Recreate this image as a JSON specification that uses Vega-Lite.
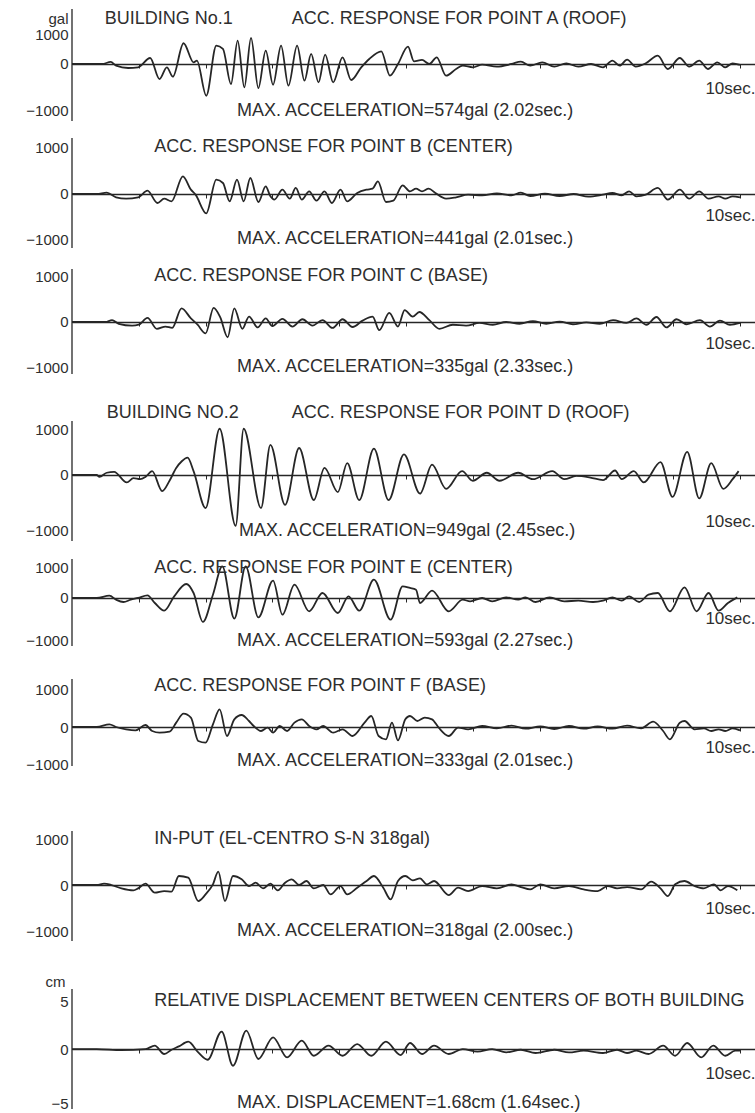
{
"$schema": "https://vega.github.io/schema/vega-lite/v6.json",
"background": "white",
"padding": {"left": 25, "top": 8, "right": 0, "bottom": 0},
"autosize": {"type": "pad"},
"bounds": "flush",
"spacing": 0,
"config": {
  "view": {"stroke": null},
  "font": "Liberation Sans, Arial, Helvetica, sans-serif",
  "axis": {"labelFont": "Liberation Sans, Arial, Helvetica, sans-serif", "labelColor": "#2e2e2e", "titleFont": "Liberation Sans, Arial, Helvetica, sans-serif", "titleColor": "#2e2e2e", "titleFontWeight": "normal", "grid": false},
  "text": {"font": "Liberation Sans, Arial, Helvetica, sans-serif", "color": "#2e2e2e", "fontSize": 18, "align": "left", "baseline": "middle"},
  "line": {"interpolate": "monotone", "stroke": "#262626", "strokeWidth": 1.8},
  "rule": {"stroke": "#262626", "strokeWidth": 1.3}
},
"datasets": {
"w": [
{"p":"A","t":0,"v":0},{"p":"A","t":0.45,"v":0},{"p":"A","t":0.58,"v":53},{"p":"A","t":0.66,"v":-44},{"p":"A","t":0.84,"v":-106},{"p":"A","t":0.99,"v":-88},{"p":"A","t":1.17,"v":158},{"p":"A","t":1.31,"v":-396},{"p":"A","t":1.42,"v":-88},{"p":"A","t":1.51,"v":-334},{"p":"A","t":1.67,"v":546},{"p":"A","t":1.82,"v":44},{"p":"A","t":1.87,"v":88},{"p":"A","t":2.01,"v":-836},{"p":"A","t":2.16,"v":484},{"p":"A","t":2.26,"v":396},{"p":"A","t":2.38,"v":-528},{"p":"A","t":2.48,"v":616},{"p":"A","t":2.58,"v":-616},{"p":"A","t":2.68,"v":686},{"p":"A","t":2.79,"v":-634},{"p":"A","t":2.9,"v":352},{"p":"A","t":3.01,"v":-546},{"p":"A","t":3.13,"v":484},{"p":"A","t":3.24,"v":-572},{"p":"A","t":3.37,"v":484},{"p":"A","t":3.48,"v":-440},{"p":"A","t":3.58,"v":264},{"p":"A","t":3.69,"v":-484},{"p":"A","t":3.79,"v":246},{"p":"A","t":3.91,"v":-484},{"p":"A","t":4.05,"v":176},{"p":"A","t":4.18,"v":-422},{"p":"A","t":4.33,"v":-88},{"p":"A","t":4.45,"v":132},{"p":"A","t":4.63,"v":334},{"p":"A","t":4.76,"v":-308},{"p":"A","t":4.88,"v":0},{"p":"A","t":5.03,"v":458},{"p":"A","t":5.12,"v":70},{"p":"A","t":5.24,"v":106},{"p":"A","t":5.35,"v":0},{"p":"A","t":5.46,"v":176},{"p":"A","t":5.6,"v":-308},{"p":"A","t":5.75,"v":-132},{"p":"A","t":5.85,"v":-44},{"p":"A","t":6.0,"v":-88},{"p":"A","t":6.14,"v":-18},{"p":"A","t":6.36,"v":-70},{"p":"A","t":6.58,"v":0},{"p":"A","t":6.72,"v":62},{"p":"A","t":6.86,"v":-44},{"p":"A","t":7.04,"v":44},{"p":"A","t":7.22,"v":-70},{"p":"A","t":7.4,"v":18},{"p":"A","t":7.58,"v":-70},{"p":"A","t":7.77,"v":0},{"p":"A","t":7.95,"v":-88},{"p":"A","t":8.09,"v":88},{"p":"A","t":8.2,"v":-44},{"p":"A","t":8.31,"v":114},{"p":"A","t":8.44,"v":-70},{"p":"A","t":8.59,"v":18},{"p":"A","t":8.77,"v":220},{"p":"A","t":8.92,"v":-132},{"p":"A","t":9.1,"v":158},{"p":"A","t":9.24,"v":-70},{"p":"A","t":9.39,"v":88},{"p":"A","t":9.52,"v":-132},{"p":"A","t":9.66,"v":44},{"p":"A","t":9.78,"v":-88},{"p":"A","t":9.89,"v":18},{"p":"A","t":10.0,"v":-26},
{"p":"B","t":0,"v":0},{"p":"B","t":0.37,"v":0},{"p":"B","t":0.52,"v":29},{"p":"B","t":0.66,"v":-73},{"p":"B","t":0.81,"v":-102},{"p":"B","t":0.99,"v":-73},{"p":"B","t":1.13,"v":73},{"p":"B","t":1.28,"v":-196},{"p":"B","t":1.38,"v":-102},{"p":"B","t":1.49,"v":-160},{"p":"B","t":1.66,"v":384},{"p":"B","t":1.78,"v":94},{"p":"B","t":1.85,"v":-15},{"p":"B","t":2.01,"v":-421},{"p":"B","t":2.16,"v":312},{"p":"B","t":2.26,"v":239},{"p":"B","t":2.36,"v":-160},{"p":"B","t":2.47,"v":312},{"p":"B","t":2.57,"v":-160},{"p":"B","t":2.67,"v":348},{"p":"B","t":2.79,"v":-174},{"p":"B","t":2.9,"v":167},{"p":"B","t":2.97,"v":-51},{"p":"B","t":3.03,"v":-123},{"p":"B","t":3.15,"v":94},{"p":"B","t":3.26,"v":-102},{"p":"B","t":3.35,"v":131},{"p":"B","t":3.44,"v":-123},{"p":"B","t":3.55,"v":58},{"p":"B","t":3.66,"v":-145},{"p":"B","t":3.78,"v":58},{"p":"B","t":3.89,"v":-196},{"p":"B","t":4.02,"v":94},{"p":"B","t":4.12,"v":-160},{"p":"B","t":4.27,"v":22},{"p":"B","t":4.41,"v":94},{"p":"B","t":4.5,"v":116},{"p":"B","t":4.58,"v":276},{"p":"B","t":4.7,"v":-174},{"p":"B","t":4.81,"v":-145},{"p":"B","t":4.95,"v":189},{"p":"B","t":5.06,"v":58},{"p":"B","t":5.15,"v":116},{"p":"B","t":5.24,"v":58},{"p":"B","t":5.34,"v":116},{"p":"B","t":5.44,"v":22},{"p":"B","t":5.6,"v":-102},{"p":"B","t":5.75,"v":-73},{"p":"B","t":5.93,"v":-15},{"p":"B","t":6.14,"v":-29},{"p":"B","t":6.36,"v":15},{"p":"B","t":6.58,"v":-29},{"p":"B","t":6.72,"v":29},{"p":"B","t":6.86,"v":-44},{"p":"B","t":7.08,"v":7},{"p":"B","t":7.3,"v":-44},{"p":"B","t":7.51,"v":0},{"p":"B","t":7.73,"v":-58},{"p":"B","t":7.95,"v":-15},{"p":"B","t":8.09,"v":22},{"p":"B","t":8.23,"v":-29},{"p":"B","t":8.34,"v":58},{"p":"B","t":8.45,"v":-51},{"p":"B","t":8.59,"v":-15},{"p":"B","t":8.77,"v":131},{"p":"B","t":8.92,"v":-123},{"p":"B","t":9.1,"v":94},{"p":"B","t":9.24,"v":-102},{"p":"B","t":9.39,"v":58},{"p":"B","t":9.53,"v":-102},{"p":"B","t":9.68,"v":-51},{"p":"B","t":9.78,"v":-102},{"p":"B","t":9.89,"v":-51},{"p":"B","t":10.0,"v":-73},
{"p":"C","t":0,"v":0},{"p":"C","t":0.5,"v":0},{"p":"C","t":0.6,"v":40},{"p":"C","t":0.7,"v":-40},{"p":"C","t":0.9,"v":-80},{"p":"C","t":1.0,"v":-60},{"p":"C","t":1.13,"v":90},{"p":"C","t":1.27,"v":-150},{"p":"C","t":1.4,"v":-100},{"p":"C","t":1.5,"v":-130},{"p":"C","t":1.64,"v":300},{"p":"C","t":1.78,"v":80},{"p":"C","t":1.88,"v":-60},{"p":"C","t":2.0,"v":-250},{"p":"C","t":2.12,"v":310},{"p":"C","t":2.22,"v":100},{"p":"C","t":2.33,"v":-335},{"p":"C","t":2.43,"v":300},{"p":"C","t":2.55,"v":-150},{"p":"C","t":2.65,"v":120},{"p":"C","t":2.78,"v":-120},{"p":"C","t":2.9,"v":80},{"p":"C","t":3.0,"v":-90},{"p":"C","t":3.15,"v":70},{"p":"C","t":3.3,"v":-100},{"p":"C","t":3.45,"v":60},{"p":"C","t":3.6,"v":-80},{"p":"C","t":3.75,"v":40},{"p":"C","t":3.9,"v":-130},{"p":"C","t":4.05,"v":60},{"p":"C","t":4.2,"v":-110},{"p":"C","t":4.35,"v":30},{"p":"C","t":4.5,"v":120},{"p":"C","t":4.6,"v":-180},{"p":"C","t":4.75,"v":200},{"p":"C","t":4.88,"v":-100},{"p":"C","t":4.98,"v":260},{"p":"C","t":5.1,"v":120},{"p":"C","t":5.2,"v":220},{"p":"C","t":5.35,"v":40},{"p":"C","t":5.5,"v":-150},{"p":"C","t":5.7,"v":-60},{"p":"C","t":5.9,"v":-80},{"p":"C","t":6.1,"v":-20},{"p":"C","t":6.3,"v":-60},{"p":"C","t":6.5,"v":0},{"p":"C","t":6.7,"v":-40},{"p":"C","t":6.9,"v":20},{"p":"C","t":7.1,"v":-40},{"p":"C","t":7.3,"v":10},{"p":"C","t":7.5,"v":-50},{"p":"C","t":7.7,"v":-10},{"p":"C","t":7.9,"v":-40},{"p":"C","t":8.1,"v":40},{"p":"C","t":8.3,"v":-20},{"p":"C","t":8.45,"v":80},{"p":"C","t":8.6,"v":-60},{"p":"C","t":8.75,"v":110},{"p":"C","t":8.9,"v":-120},{"p":"C","t":9.05,"v":60},{"p":"C","t":9.2,"v":-50},{"p":"C","t":9.4,"v":40},{"p":"C","t":9.55,"v":-100},{"p":"C","t":9.7,"v":30},{"p":"C","t":9.85,"v":-60},{"p":"C","t":10.0,"v":-20},
{"p":"D","t":0,"v":0},{"p":"D","t":0.37,"v":0},{"p":"D","t":0.41,"v":-38},{"p":"D","t":0.52,"v":44},{"p":"D","t":0.63,"v":63},{"p":"D","t":0.82,"v":-145},{"p":"D","t":0.92,"v":-63},{"p":"D","t":1.02,"v":-82},{"p":"D","t":1.1,"v":-38},{"p":"D","t":1.2,"v":76},{"p":"D","t":1.35,"v":-315},{"p":"D","t":1.46,"v":-113},{"p":"D","t":1.56,"v":139},{"p":"D","t":1.64,"v":265},{"p":"D","t":1.73,"v":340},{"p":"D","t":1.82,"v":76},{"p":"D","t":2.0,"v":-649},{"p":"D","t":2.21,"v":907},{"p":"D","t":2.45,"v":-995},{"p":"D","t":2.57,"v":907},{"p":"D","t":2.83,"v":-649},{"p":"D","t":2.97,"v":592},{"p":"D","t":3.19,"v":-586},{"p":"D","t":3.4,"v":529},{"p":"D","t":3.62,"v":-491},{"p":"D","t":3.78,"v":139},{"p":"D","t":3.98,"v":-334},{"p":"D","t":4.12,"v":233},{"p":"D","t":4.3,"v":-491},{"p":"D","t":4.52,"v":517},{"p":"D","t":4.74,"v":-491},{"p":"D","t":4.97,"v":403},{"p":"D","t":5.21,"v":-365},{"p":"D","t":5.39,"v":202},{"p":"D","t":5.6,"v":-271},{"p":"D","t":5.84,"v":76},{"p":"D","t":6.0,"v":-113},{"p":"D","t":6.21,"v":44},{"p":"D","t":6.4,"v":-113},{"p":"D","t":6.68,"v":44},{"p":"D","t":6.9,"v":-82},{"p":"D","t":7.19,"v":76},{"p":"D","t":7.37,"v":-82},{"p":"D","t":7.55,"v":-19},{"p":"D","t":7.76,"v":-50},{"p":"D","t":7.95,"v":-101},{"p":"D","t":8.13,"v":88},{"p":"D","t":8.23,"v":-82},{"p":"D","t":8.41,"v":76},{"p":"D","t":8.56,"v":-145},{"p":"D","t":8.81,"v":252},{"p":"D","t":8.99,"v":-428},{"p":"D","t":9.21,"v":454},{"p":"D","t":9.39,"v":-460},{"p":"D","t":9.57,"v":233},{"p":"D","t":9.75,"v":-271},{"p":"D","t":9.89,"v":-82},{"p":"D","t":9.98,"v":76},
{"p":"E","t":0,"v":0},{"p":"E","t":0.37,"v":0},{"p":"E","t":0.56,"v":64},{"p":"E","t":0.66,"v":-46},{"p":"E","t":0.77,"v":-110},{"p":"E","t":0.88,"v":-46},{"p":"E","t":0.99,"v":0},{"p":"E","t":1.13,"v":73},{"p":"E","t":1.24,"v":-137},{"p":"E","t":1.38,"v":-347},{"p":"E","t":1.53,"v":46},{"p":"E","t":1.71,"v":383},{"p":"E","t":1.82,"v":137},{"p":"E","t":1.96,"v":-657},{"p":"E","t":2.11,"v":91},{"p":"E","t":2.25,"v":867},{"p":"E","t":2.43,"v":-566},{"p":"E","t":2.6,"v":867},{"p":"E","t":2.79,"v":-530},{"p":"E","t":3.01,"v":475},{"p":"E","t":3.15,"v":-457},{"p":"E","t":3.33,"v":365},{"p":"E","t":3.55,"v":-365},{"p":"E","t":3.75,"v":137},{"p":"E","t":3.98,"v":-411},{"p":"E","t":4.14,"v":46},{"p":"E","t":4.3,"v":-347},{"p":"E","t":4.52,"v":502},{"p":"E","t":4.77,"v":-593},{"p":"E","t":4.95,"v":320},{"p":"E","t":5.06,"v":274},{"p":"E","t":5.15,"v":228},{"p":"E","t":5.21,"v":-137},{"p":"E","t":5.39,"v":201},{"p":"E","t":5.64,"v":-365},{"p":"E","t":5.85,"v":-46},{"p":"E","t":5.96,"v":-91},{"p":"E","t":6.14,"v":0},{"p":"E","t":6.29,"v":-91},{"p":"E","t":6.5,"v":18},{"p":"E","t":6.68,"v":-46},{"p":"E","t":6.79,"v":18},{"p":"E","t":6.94,"v":-110},{"p":"E","t":7.15,"v":18},{"p":"E","t":7.37,"v":-91},{"p":"E","t":7.58,"v":-73},{"p":"E","t":7.8,"v":-110},{"p":"E","t":7.95,"v":-73},{"p":"E","t":8.09,"v":18},{"p":"E","t":8.23,"v":-73},{"p":"E","t":8.34,"v":46},{"p":"E","t":8.49,"v":-110},{"p":"E","t":8.63,"v":91},{"p":"E","t":8.77,"v":137},{"p":"E","t":8.95,"v":-365},{"p":"E","t":9.17,"v":292},{"p":"E","t":9.35,"v":-365},{"p":"E","t":9.53,"v":137},{"p":"E","t":9.68,"v":-347},{"p":"E","t":9.82,"v":-137},{"p":"E","t":9.96,"v":18},
{"p":"F","t":0,"v":0},{"p":"F","t":0.37,"v":0},{"p":"F","t":0.56,"v":71},{"p":"F","t":0.66,"v":0},{"p":"F","t":0.81,"v":-62},{"p":"F","t":0.95,"v":-89},{"p":"F","t":1.1,"v":53},{"p":"F","t":1.2,"v":-107},{"p":"F","t":1.31,"v":-151},{"p":"F","t":1.46,"v":-125},{"p":"F","t":1.56,"v":116},{"p":"F","t":1.67,"v":356},{"p":"F","t":1.78,"v":249},{"p":"F","t":1.89,"v":-374},{"p":"F","t":2.0,"v":-418},{"p":"F","t":2.11,"v":71},{"p":"F","t":2.21,"v":472},{"p":"F","t":2.32,"v":-240},{"p":"F","t":2.43,"v":205},{"p":"F","t":2.54,"v":320},{"p":"F","t":2.65,"v":160},{"p":"F","t":2.72,"v":27},{"p":"F","t":2.83,"v":-107},{"p":"F","t":2.93,"v":-18},{"p":"F","t":3.01,"v":-151},{"p":"F","t":3.11,"v":27},{"p":"F","t":3.22,"v":-107},{"p":"F","t":3.33,"v":116},{"p":"F","t":3.44,"v":205},{"p":"F","t":3.55,"v":27},{"p":"F","t":3.66,"v":-62},{"p":"F","t":3.76,"v":27},{"p":"F","t":3.91,"v":-151},{"p":"F","t":4.05,"v":-62},{"p":"F","t":4.2,"v":-240},{"p":"F","t":4.38,"v":116},{"p":"F","t":4.48,"v":294},{"p":"F","t":4.59,"v":-240},{"p":"F","t":4.7,"v":-329},{"p":"F","t":4.79,"v":116},{"p":"F","t":4.88,"v":-356},{"p":"F","t":4.99,"v":205},{"p":"F","t":5.06,"v":294},{"p":"F","t":5.17,"v":160},{"p":"F","t":5.28,"v":249},{"p":"F","t":5.39,"v":205},{"p":"F","t":5.49,"v":-18},{"p":"F","t":5.64,"v":-240},{"p":"F","t":5.78,"v":-18},{"p":"F","t":5.93,"v":-62},{"p":"F","t":6.14,"v":27},{"p":"F","t":6.36,"v":-36},{"p":"F","t":6.58,"v":36},{"p":"F","t":6.79,"v":-45},{"p":"F","t":7.01,"v":18},{"p":"F","t":7.22,"v":-53},{"p":"F","t":7.44,"v":27},{"p":"F","t":7.66,"v":-45},{"p":"F","t":7.87,"v":18},{"p":"F","t":8.09,"v":-45},{"p":"F","t":8.31,"v":36},{"p":"F","t":8.52,"v":-36},{"p":"F","t":8.7,"v":142},{"p":"F","t":8.85,"v":-107},{"p":"F","t":8.95,"v":-329},{"p":"F","t":9.1,"v":116},{"p":"F","t":9.17,"v":160},{"p":"F","t":9.32,"v":-62},{"p":"F","t":9.46,"v":-36},{"p":"F","t":9.57,"v":-107},{"p":"F","t":9.68,"v":-62},{"p":"F","t":9.78,"v":-107},{"p":"F","t":9.89,"v":-36},{"p":"F","t":10.0,"v":-89},
{"p":"I","t":0,"v":0},{"p":"I","t":0.37,"v":0},{"p":"I","t":0.48,"v":29},{"p":"I","t":0.59,"v":0},{"p":"I","t":0.74,"v":-73},{"p":"I","t":0.92,"v":-116},{"p":"I","t":0.99,"v":-73},{"p":"I","t":1.1,"v":29},{"p":"I","t":1.24,"v":-167},{"p":"I","t":1.38,"v":-131},{"p":"I","t":1.49,"v":-145},{"p":"I","t":1.6,"v":196},{"p":"I","t":1.74,"v":160},{"p":"I","t":1.89,"v":-349},{"p":"I","t":2.0,"v":-204},{"p":"I","t":2.11,"v":15},{"p":"I","t":2.19,"v":291},{"p":"I","t":2.29,"v":-349},{"p":"I","t":2.41,"v":196},{"p":"I","t":2.54,"v":124},{"p":"I","t":2.65,"v":-22},{"p":"I","t":2.75,"v":51},{"p":"I","t":2.86,"v":-73},{"p":"I","t":2.97,"v":29},{"p":"I","t":3.08,"v":-116},{"p":"I","t":3.19,"v":51},{"p":"I","t":3.29,"v":124},{"p":"I","t":3.4,"v":0},{"p":"I","t":3.51,"v":87},{"p":"I","t":3.62,"v":-73},{"p":"I","t":3.76,"v":0},{"p":"I","t":3.87,"v":-204},{"p":"I","t":4.02,"v":-22},{"p":"I","t":4.12,"v":-204},{"p":"I","t":4.27,"v":-58},{"p":"I","t":4.41,"v":87},{"p":"I","t":4.52,"v":196},{"p":"I","t":4.66,"v":-58},{"p":"I","t":4.77,"v":-313},{"p":"I","t":4.88,"v":87},{"p":"I","t":4.99,"v":196},{"p":"I","t":5.1,"v":102},{"p":"I","t":5.21,"v":145},{"p":"I","t":5.31,"v":15},{"p":"I","t":5.42,"v":87},{"p":"I","t":5.64,"v":-218},{"p":"I","t":5.78,"v":-58},{"p":"I","t":5.93,"v":-131},{"p":"I","t":6.14,"v":-22},{"p":"I","t":6.36,"v":-73},{"p":"I","t":6.58,"v":15},{"p":"I","t":6.72,"v":-44},{"p":"I","t":6.86,"v":-95},{"p":"I","t":7.01,"v":15},{"p":"I","t":7.22,"v":-73},{"p":"I","t":7.44,"v":-22},{"p":"I","t":7.66,"v":-95},{"p":"I","t":7.87,"v":-131},{"p":"I","t":8.02,"v":-22},{"p":"I","t":8.16,"v":-73},{"p":"I","t":8.31,"v":-44},{"p":"I","t":8.52,"v":-95},{"p":"I","t":8.67,"v":73},{"p":"I","t":8.81,"v":-73},{"p":"I","t":8.92,"v":-240},{"p":"I","t":9.03,"v":15},{"p":"I","t":9.17,"v":87},{"p":"I","t":9.32,"v":-22},{"p":"I","t":9.46,"v":-73},{"p":"I","t":9.61,"v":15},{"p":"I","t":9.71,"v":-116},{"p":"I","t":9.82,"v":-22},{"p":"I","t":9.96,"v":-116},
{"p":"R","t":0,"v":0},{"p":"R","t":0.37,"v":0},{"p":"R","t":0.74,"v":-0.1},{"p":"R","t":1.1,"v":0},{"p":"R","t":1.24,"v":0.33},{"p":"R","t":1.38,"v":-0.49},{"p":"R","t":1.49,"v":-0.07},{"p":"R","t":1.6,"v":0.26},{"p":"R","t":1.74,"v":0.72},{"p":"R","t":1.89,"v":-0.33},{"p":"R","t":2.03,"v":-1.05},{"p":"R","t":2.24,"v":1.71},{"p":"R","t":2.41,"v":-1.64},{"p":"R","t":2.61,"v":1.8},{"p":"R","t":2.79,"v":-0.98},{"p":"R","t":3.01,"v":1.15},{"p":"R","t":3.22,"v":-0.82},{"p":"R","t":3.44,"v":0.82},{"p":"R","t":3.62,"v":-0.66},{"p":"R","t":3.84,"v":0.33},{"p":"R","t":4.05,"v":-0.66},{"p":"R","t":4.27,"v":0.49},{"p":"R","t":4.48,"v":-0.66},{"p":"R","t":4.7,"v":0.72},{"p":"R","t":4.92,"v":-0.59},{"p":"R","t":5.06,"v":0.59},{"p":"R","t":5.24,"v":-0.49},{"p":"R","t":5.42,"v":0.33},{"p":"R","t":5.64,"v":-0.49},{"p":"R","t":5.85,"v":0},{"p":"R","t":6.07,"v":-0.26},{"p":"R","t":6.29,"v":0},{"p":"R","t":6.5,"v":-0.33},{"p":"R","t":6.72,"v":-0.07},{"p":"R","t":6.94,"v":-0.39},{"p":"R","t":7.22,"v":-0.07},{"p":"R","t":7.44,"v":-0.33},{"p":"R","t":7.66,"v":-0.16},{"p":"R","t":7.95,"v":-0.39},{"p":"R","t":8.16,"v":-0.07},{"p":"R","t":8.31,"v":-0.39},{"p":"R","t":8.45,"v":-0.16},{"p":"R","t":8.63,"v":-0.49},{"p":"R","t":8.85,"v":0.33},{"p":"R","t":9.03,"v":-0.66},{"p":"R","t":9.21,"v":0.59},{"p":"R","t":9.42,"v":-0.82},{"p":"R","t":9.6,"v":0.33},{"p":"R","t":9.78,"v":-0.66},{"p":"R","t":9.93,"v":-0.16},{"p":"R","t":10.0,"v":-0.16}
]
},
"vconcat": [
{
 "width": 684, "height": 120,
 "layer": [
  {"data": {"name": "w"}, "transform": [{"filter": "datum.p == 'A'"}], "mark": "line",
   "encoding": {
    "x": {"field": "t", "type": "quantitative", "scale": {"domain": [0, 10.24], "nice": false, "zero": false},
          "axis": {"values": [1,2,3,4,5,6,7,8,9,10], "offset": -65, "domainColor": "#262626", "domainWidth": 1.5, "tickColor": "#262626", "tickSize": 4, "labelExpr": "datum.value == 10 ? '10sec.' : ''", "labelAlign": "right", "labelOffset": 15, "labelPadding": 12, "labelFontSize": 17, "labelFlush": false, "labelOverlap": false, "title": null}},
    "y": {"field": "v", "type": "quantitative", "scale": {"domain": [-1711, 1447], "nice": false, "zero": false},
          "axis": {"values": [-1000, 0, 1000], "format": "d", "domain": false, "ticks": false, "labelPadding": 4, "labelFontSize": 15, "labelOffset": {"condition": {"test": "datum.value == 0", "value": 0}, "value": 9}, "title": "gal", "titleAngle": 0, "titleAlign": "right", "titleBaseline": "middle", "titleX": -4, "titleY": 9, "titleFontSize": 15}}
   }},
  {"data": {"values": [{}]}, "mark": "rule", "encoding": {"x": {"datum": 0}, "y": {"datum": 1447}, "y2": {"datum": -1500}}},
  {"data": {"values": [{}]}, "mark": "text", "encoding": {"x": {"datum": 0.49}, "y": {"datum": 1184}, "text": {"value": "BUILDING No.1"}}},
  {"data": {"values": [{}]}, "mark": "text", "encoding": {"x": {"datum": 3.29}, "y": {"datum": 1184}, "text": {"value": "ACC. RESPONSE FOR POINT A (ROOF)"}}},
  {"data": {"values": [{}]}, "mark": "text", "encoding": {"x": {"datum": 2.47}, "y": {"datum": -1237}, "text": {"value": "MAX. ACCELERATION=574gal (2.02sec.)"}}}
 ]
},
{
 "width": 684, "height": 128,
 "layer": [
  {"data": {"name": "w"}, "transform": [{"filter": "datum.p == 'B'"}], "mark": "line",
   "encoding": {
    "x": {"field": "t", "type": "quantitative", "scale": {"domain": [0, 10.24], "nice": false, "zero": false},
          "axis": {"values": [1,2,3,4,5,6,7,8,9,10], "offset": -63, "domainColor": "#262626", "domainWidth": 1.5, "tickColor": "#262626", "tickSize": 4, "labelExpr": "datum.value == 10 ? '10sec.' : ''", "labelAlign": "right", "labelOffset": 15, "labelPadding": 9, "labelFontSize": 17, "labelFlush": false, "labelOverlap": false, "title": null}},
    "y": {"field": "v", "type": "quantitative", "scale": {"domain": [-1370, 1413], "nice": false, "zero": false},
          "axis": {"values": [-1000, 0, 1000], "format": "d", "domain": false, "ticks": false, "labelPadding": 4, "labelFontSize": 15, "title": null}}
   }},
  {"data": {"values": [{}]}, "mark": "rule", "encoding": {"x": {"datum": 0}, "y": {"datum": 1217}, "y2": {"datum": -1174}}},
  {"data": {"values": [{}]}, "mark": "text", "encoding": {"x": {"datum": 1.23}, "y": {"datum": 1022}, "text": {"value": "ACC. RESPONSE FOR POINT B (CENTER)"}}},
  {"data": {"values": [{}]}, "mark": "text", "encoding": {"x": {"datum": 2.47}, "y": {"datum": -978}, "text": {"value": "MAX. ACCELERATION=441gal (2.01sec.)"}}}
 ]
},
{
 "width": 684, "height": 133,
 "layer": [
  {"data": {"name": "w"}, "transform": [{"filter": "datum.p == 'C'"}], "mark": "line",
   "encoding": {
    "x": {"field": "t", "type": "quantitative", "scale": {"domain": [0, 10.24], "nice": false, "zero": false},
          "axis": {"values": [1,2,3,4,5,6,7,8,9,10], "offset": -68, "domainColor": "#262626", "domainWidth": 1.5, "tickColor": "#262626", "tickSize": 4, "labelExpr": "datum.value == 10 ? '10sec.' : ''", "labelAlign": "right", "labelOffset": 15, "labelPadding": 9, "labelFontSize": 17, "labelFlush": false, "labelOverlap": false, "title": null}},
    "y": {"field": "v", "type": "quantitative", "scale": {"domain": [-1495, 1429], "nice": false, "zero": false},
          "axis": {"values": [-1000, 0, 1000], "format": "d", "domain": false, "ticks": false, "labelPadding": 4, "labelFontSize": 15, "title": null}}
   }},
  {"data": {"values": [{}]}, "mark": "rule", "encoding": {"x": {"datum": 0}, "y": {"datum": 1165}, "y2": {"datum": -1143}}},
  {"data": {"values": [{}]}, "mark": "text", "encoding": {"x": {"datum": 1.23}, "y": {"datum": 1011}, "text": {"value": "ACC. RESPONSE FOR POINT C (BASE)"}}},
  {"data": {"values": [{}]}, "mark": "text", "encoding": {"x": {"datum": 2.47}, "y": {"datum": -989}, "text": {"value": "MAX. ACCELERATION=335gal (2.33sec.)"}}}
 ]
},
{
 "width": 684, "height": 160,
 "layer": [
  {"data": {"name": "w"}, "transform": [{"filter": "datum.p == 'D'"}], "mark": "line",
   "encoding": {
    "x": {"field": "t", "type": "quantitative", "scale": {"domain": [0, 10.24], "nice": false, "zero": false},
          "axis": {"values": [1,2,3,4,5,6,7,8,9,10], "offset": -75, "domainColor": "#262626", "domainWidth": 1.5, "tickColor": "#262626", "tickSize": 4, "labelExpr": "datum.value == 10 ? '10sec.' : ''", "labelAlign": "right", "labelOffset": 15, "labelPadding": 34, "labelFontSize": 17, "labelFlush": false, "labelOverlap": false, "title": null}},
    "y": {"field": "v", "type": "quantitative", "scale": {"domain": [-1471, 1667], "nice": false, "zero": false},
          "axis": {"values": [-1000, 0, 1000], "format": "d", "domain": false, "ticks": false, "labelPadding": 4, "labelFontSize": 15, "labelOffset": {"condition": {"test": "datum.value == 0", "value": 0}, "value": 5}, "title": null}}
   }},
  {"data": {"values": [{}]}, "mark": "rule", "encoding": {"x": {"datum": 0}, "y": {"datum": 1059}, "y2": {"datum": -1294}}},
  {"data": {"values": [{}]}, "mark": "text", "encoding": {"x": {"datum": 0.52}, "y": {"datum": 1216}, "text": {"value": "BUILDING NO.2"}}},
  {"data": {"values": [{}]}, "mark": "text", "encoding": {"x": {"datum": 3.29}, "y": {"datum": 1216}, "text": {"value": "ACC. RESPONSE FOR POINT D (ROOF)"}}},
  {"data": {"values": [{}]}, "mark": "text", "encoding": {"x": {"datum": 2.5}, "y": {"datum": -1098}, "text": {"value": "MAX. ACCELERATION=949gal (2.45sec.)"}}}
 ]
},
{
 "width": 684, "height": 113,
 "layer": [
  {"data": {"name": "w"}, "transform": [{"filter": "datum.p == 'E'"}], "mark": "line",
   "encoding": {
    "x": {"field": "t", "type": "quantitative", "scale": {"domain": [0, 10.24], "nice": false, "zero": false},
          "axis": {"values": [1,2,3,4,5,6,7,8,9,10], "offset": -65, "domainColor": "#262626", "domainWidth": 1.5, "tickColor": "#262626", "tickSize": 4, "labelExpr": "datum.value == 10 ? '10sec.' : ''", "labelAlign": "right", "labelOffset": 15, "labelPadding": 8, "labelFontSize": 17, "labelFlush": false, "labelOverlap": false, "title": null}},
    "y": {"field": "v", "type": "quantitative", "scale": {"domain": [-1781, 1315], "nice": false, "zero": false},
          "axis": {"values": [-1000, 0, 1000], "format": "d", "domain": false, "ticks": false, "labelPadding": 4, "labelFontSize": 15, "labelOffset": {"condition": {"test": "datum.value == 0", "value": 0}, "value": 6}, "title": null}}
   }},
  {"data": {"values": [{}]}, "mark": "rule", "encoding": {"x": {"datum": 0}, "y": {"datum": 1068}, "y2": {"datum": -1315}}},
  {"data": {"values": [{}]}, "mark": "text", "encoding": {"x": {"datum": 1.23}, "y": {"datum": 822}, "text": {"value": "ACC. RESPONSE FOR POINT E (CENTER)"}}},
  {"data": {"values": [{}]}, "mark": "text", "encoding": {"x": {"datum": 2.47}, "y": {"datum": -1178}, "text": {"value": "MAX. ACCELERATION=593gal (2.27sec.)"}}}
 ]
},
{
 "width": 684, "height": 137,
 "layer": [
  {"data": {"name": "w"}, "transform": [{"filter": "datum.p == 'F'"}], "mark": "line",
   "encoding": {
    "x": {"field": "t", "type": "quantitative", "scale": {"domain": [0, 10.24], "nice": false, "zero": false},
          "axis": {"values": [1,2,3,4,5,6,7,8,9,10], "offset": -73, "domainColor": "#262626", "domainWidth": 1.5, "tickColor": "#262626", "tickSize": 4, "labelExpr": "datum.value == 10 ? '10sec.' : ''", "labelAlign": "right", "labelOffset": 15, "labelPadding": 8, "labelFontSize": 17, "labelFlush": false, "labelOverlap": false, "title": null}},
    "y": {"field": "v", "type": "quantitative", "scale": {"domain": [-1947, 1707], "nice": false, "zero": false},
          "axis": {"values": [-1000, 0, 1000], "format": "d", "domain": false, "ticks": false, "labelPadding": 4, "labelFontSize": 15, "title": null}}
   }},
  {"data": {"values": [{}]}, "mark": "rule", "encoding": {"x": {"datum": 0}, "y": {"datum": 1280}, "y2": {"datum": -1040}}},
  {"data": {"values": [{}]}, "mark": "text", "encoding": {"x": {"datum": 1.23}, "y": {"datum": 1093}, "text": {"value": "ACC. RESPONSE FOR POINT F (BASE)"}}},
  {"data": {"values": [{}]}, "mark": "text", "encoding": {"x": {"datum": 2.47}, "y": {"datum": -907}, "text": {"value": "MAX. ACCELERATION=333gal (2.01sec.)"}}}
 ]
},
{
 "width": 684, "height": 156,
 "layer": [
  {"data": {"name": "w"}, "transform": [{"filter": "datum.p == 'I'"}], "mark": "line",
   "encoding": {
    "x": {"field": "t", "type": "quantitative", "scale": {"domain": [0, 10.24], "nice": false, "zero": false},
          "axis": {"values": [1,2,3,4,5,6,7,8,9,10], "offset": -71, "domainColor": "#262626", "domainWidth": 1.5, "tickColor": "#262626", "tickSize": 4, "labelExpr": "datum.value == 10 ? '10sec.' : ''", "labelAlign": "right", "labelOffset": 15, "labelPadding": 11, "labelFontSize": 17, "labelFlush": false, "labelOverlap": false, "title": null}},
    "y": {"field": "v", "type": "quantitative", "scale": {"domain": [-1543, 1848], "nice": false, "zero": false},
          "axis": {"values": [-1000, 0, 1000], "format": "d", "domain": false, "ticks": false, "labelPadding": 4, "labelFontSize": 15, "title": null}}
   }},
  {"data": {"values": [{}]}, "mark": "rule", "encoding": {"x": {"datum": 0}, "y": {"datum": 1174}, "y2": {"datum": -1217}}},
  {"data": {"values": [{}]}, "mark": "text", "encoding": {"x": {"datum": 1.23}, "y": {"datum": 1000}, "text": {"value": "IN-PUT (EL-CENTRO S-N 318gal)"}}},
  {"data": {"values": [{}]}, "mark": "text", "encoding": {"x": {"datum": 2.47}, "y": {"datum": -1000}, "text": {"value": "MAX. ACCELERATION=318gal (2.00sec.)"}}}
 ]
},
{
 "width": 684, "height": 158,
 "layer": [
  {"data": {"name": "w"}, "transform": [{"filter": "datum.p == 'R'"}], "mark": "line",
   "encoding": {
    "x": {"field": "t", "type": "quantitative", "scale": {"domain": [0, 10.24], "nice": false, "zero": false},
          "axis": {"values": [1,2,3,4,5,6,7,8,9,10], "offset": -65, "domainColor": "#262626", "domainWidth": 1.5, "tickColor": "#262626", "tickSize": 4, "labelExpr": "datum.value == 10 ? '10sec.' : ''", "labelAlign": "right", "labelOffset": 15, "labelPadding": 12, "labelFontSize": 17, "labelFlush": false, "labelOverlap": false, "title": null}},
    "y": {"field": "v", "type": "quantitative", "scale": {"domain": [-6.37, 9.12], "nice": false, "zero": false},
          "axis": {"values": [-5, 0, 5], "format": "d", "domain": false, "ticks": false, "labelPadding": 4, "labelFontSize": 15, "labelOffset": {"condition": {"test": "datum.value == 0", "value": 0}, "value": 3}, "title": "cm", "titleAngle": 0, "titleAlign": "right", "titleBaseline": "middle", "titleX": -7, "titleY": 25, "titleFontSize": 15}}
   }},
  {"data": {"values": [{}]}, "mark": "rule", "encoding": {"x": {"datum": 0}, "y": {"datum": 5.88}, "y2": {"datum": -5.88}}},
  {"data": {"values": [{}]}, "mark": "text", "encoding": {"x": {"datum": 1.23}, "y": {"datum": 4.71}, "text": {"value": "RELATIVE DISPLACEMENT BETWEEN CENTERS OF BOTH BUILDING"}}},
  {"data": {"values": [{}]}, "mark": "text", "encoding": {"x": {"datum": 2.47}, "y": {"datum": -5.29}, "text": {"value": "MAX. DISPLACEMENT=1.68cm (1.64sec.)"}}}
 ]
}
]
}
